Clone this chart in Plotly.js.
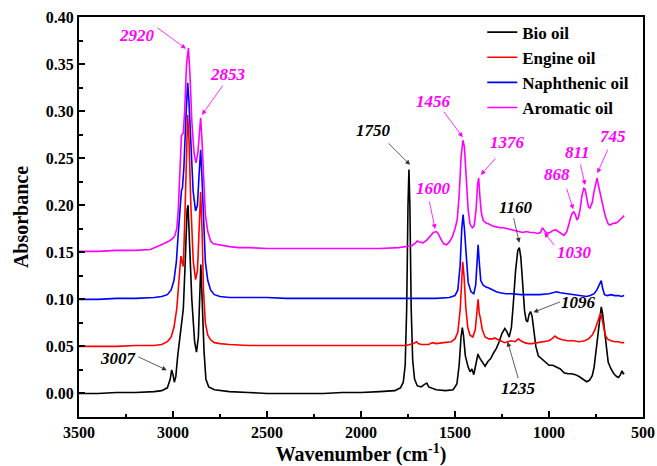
<!DOCTYPE html>
<html><head><meta charset="utf-8">
<script src="https://cdn.plot.ly/plotly-3.0.1.min.js"></script>
<style>html,body{margin:0;padding:0;background:#fff}#chart{width:657px;height:466px}</style>
</head><body><div id="chart"></div>
<script>
const seriesNames = ["Bio oil", "Engine oil", "Naphthenic oil", "Aromatic oil"];
const seriesColors = ["#000000", "#FF0000", "#0000FF", "#FF00FF"];

const bioWn = [3500,3400,3300,3200,3100,3060,3030,3015,3007,3000,2993,2985,2975,2962,2955,2945,2935,2925,2920,2913,2900,2885,2875,2865,2858,2852,2845,2835,2825,2810,2780,2750,2700,2600,2500,2400,2300,2200,2100,2000,1900,1820,1790,1775,1765,1757,1750,1745,1740,1733,1725,1715,1700,1680,1660,1650,1640,1600,1550,1510,1490,1478,1468,1461,1455,1445,1430,1420,1410,1400,1390,1378,1370,1355,1340,1325,1310,1295,1280,1265,1250,1235,1225,1212,1200,1190,1178,1166,1158,1150,1140,1130,1122,1114,1106,1098,1090,1080,1070,1057,1045,1030,1020,1000,980,960,940,920,900,880,860,840,820,800,785,770,760,750,740,730,722,715,705,695,685,670,655,640,630,620,612,605,600];
const bioAbs = [0.000,0.000,0.001,0.001,0.002,0.003,0.006,0.015,0.025,0.020,0.012,0.018,0.040,0.062,0.068,0.090,0.140,0.195,0.200,0.170,0.100,0.055,0.044,0.060,0.110,0.137,0.100,0.045,0.015,0.007,0.004,0.003,0.002,0.001,0.000,0.000,0.000,0.000,0.001,0.001,0.002,0.003,0.006,0.012,0.030,0.090,0.200,0.238,0.200,0.090,0.035,0.015,0.008,0.007,0.010,0.011,0.007,0.004,0.003,0.004,0.010,0.030,0.060,0.070,0.062,0.040,0.028,0.023,0.026,0.020,0.030,0.042,0.038,0.033,0.029,0.034,0.037,0.043,0.048,0.055,0.064,0.069,0.066,0.060,0.070,0.095,0.130,0.152,0.155,0.145,0.115,0.088,0.078,0.076,0.084,0.087,0.082,0.062,0.050,0.040,0.038,0.036,0.034,0.030,0.030,0.028,0.026,0.022,0.021,0.021,0.020,0.018,0.015,0.0125,0.014,0.019,0.028,0.045,0.065,0.085,0.092,0.085,0.065,0.045,0.033,0.026,0.021,0.018,0.017,0.020,0.024,0.021,0.022];

const engWn = [3500,3400,3300,3200,3100,3060,3030,3010,2995,2980,2968,2958,2952,2945,2938,2930,2922,2915,2905,2892,2880,2870,2862,2853,2845,2838,2828,2815,2800,2780,2750,2700,2600,2500,2400,2300,2200,2100,2000,1900,1800,1760,1740,1720,1705,1695,1680,1640,1620,1600,1560,1520,1500,1485,1472,1464,1459,1452,1442,1432,1420,1405,1392,1382,1377,1371,1365,1355,1340,1320,1300,1290,1270,1250,1235,1220,1200,1180,1162,1150,1130,1110,1090,1060,1030,1000,985,968,955,930,900,870,840,810,790,770,755,740,730,724,718,710,700,690,670,650,630,615,600];
const engAbs = [0.050,0.050,0.050,0.051,0.051,0.052,0.055,0.060,0.070,0.090,0.120,0.146,0.140,0.135,0.180,0.250,0.296,0.270,0.200,0.140,0.121,0.130,0.170,0.214,0.170,0.110,0.075,0.062,0.057,0.054,0.053,0.052,0.051,0.051,0.051,0.051,0.051,0.051,0.051,0.051,0.051,0.051,0.052,0.053,0.055,0.053,0.052,0.052,0.054,0.053,0.054,0.055,0.058,0.065,0.090,0.130,0.140,0.125,0.090,0.070,0.062,0.060,0.068,0.090,0.100,0.085,0.080,0.068,0.060,0.058,0.058,0.059,0.057,0.055,0.054,0.055,0.056,0.055,0.058,0.056,0.054,0.053,0.053,0.054,0.055,0.056,0.058,0.061,0.059,0.057,0.056,0.056,0.055,0.056,0.058,0.062,0.068,0.078,0.083,0.085,0.080,0.070,0.062,0.058,0.056,0.055,0.055,0.054,0.054];

const napWn = [3500,3400,3300,3200,3100,3060,3030,3010,2995,2982,2972,2962,2955,2950,2942,2932,2922,2915,2905,2893,2880,2870,2862,2853,2846,2838,2828,2815,2800,2780,2750,2700,2600,2500,2400,2300,2200,2100,2000,1900,1800,1700,1600,1530,1500,1485,1473,1464,1457,1450,1440,1430,1415,1400,1390,1382,1377,1371,1363,1350,1335,1320,1300,1280,1260,1230,1200,1150,1100,1050,1000,975,960,940,900,860,820,800,780,760,745,730,722,715,705,690,670,650,630,615,600];
const napAbs = [0.100,0.100,0.101,0.101,0.102,0.103,0.105,0.110,0.120,0.140,0.170,0.205,0.216,0.218,0.240,0.290,0.330,0.310,0.260,0.215,0.194,0.200,0.230,0.259,0.230,0.180,0.140,0.120,0.110,0.105,0.103,0.102,0.102,0.102,0.101,0.101,0.101,0.101,0.101,0.101,0.101,0.101,0.101,0.102,0.104,0.110,0.135,0.175,0.190,0.175,0.140,0.118,0.108,0.106,0.115,0.145,0.158,0.140,0.120,0.115,0.113,0.112,0.110,0.108,0.107,0.106,0.106,0.105,0.105,0.105,0.106,0.107,0.108,0.107,0.106,0.105,0.104,0.103,0.104,0.106,0.110,0.117,0.120,0.112,0.105,0.104,0.105,0.104,0.104,0.103,0.104];

const aroWn = [3500,3400,3300,3200,3120,3080,3050,3020,3000,2990,2980,2972,2963,2955,2945,2938,2928,2918,2910,2900,2888,2878,2868,2860,2853,2846,2838,2828,2815,2800,2785,2760,2730,2700,2650,2600,2500,2400,2300,2200,2100,2000,1900,1800,1760,1730,1710,1700,1690,1670,1650,1630,1615,1600,1590,1575,1560,1545,1530,1515,1500,1488,1478,1468,1458,1450,1440,1430,1420,1408,1398,1388,1380,1374,1368,1360,1350,1335,1320,1300,1280,1260,1240,1220,1200,1180,1160,1140,1120,1100,1080,1060,1045,1035,1028,1020,1010,995,980,965,950,935,920,905,895,885,875,868,860,852,845,835,825,815,808,798,790,782,770,760,750,744,738,728,720,712,705,695,685,676,665,655,645,635,625,615,605,600];
const aroAbs = [0.151,0.151,0.152,0.152,0.153,0.156,0.159,0.162,0.165,0.168,0.175,0.195,0.240,0.274,0.277,0.300,0.350,0.367,0.340,0.290,0.255,0.245,0.255,0.280,0.293,0.270,0.230,0.190,0.172,0.162,0.159,0.158,0.157,0.156,0.155,0.155,0.154,0.154,0.154,0.154,0.154,0.154,0.154,0.155,0.156,0.157,0.160,0.162,0.161,0.160,0.163,0.168,0.171,0.172,0.170,0.164,0.159,0.158,0.161,0.166,0.175,0.185,0.210,0.250,0.269,0.262,0.230,0.195,0.180,0.176,0.178,0.195,0.222,0.229,0.210,0.192,0.184,0.181,0.180,0.178,0.177,0.176,0.176,0.175,0.174,0.173,0.172,0.171,0.172,0.171,0.171,0.170,0.171,0.176,0.174,0.172,0.170,0.171,0.173,0.174,0.172,0.170,0.168,0.172,0.181,0.187,0.192,0.193,0.190,0.185,0.186,0.195,0.210,0.218,0.217,0.205,0.198,0.197,0.203,0.215,0.226,0.229,0.222,0.212,0.208,0.200,0.192,0.185,0.180,0.179,0.180,0.181,0.181,0.182,0.184,0.186,0.188,0.189];

// peak labels
const labelText  = ["2920","2853","1750","1456","1376","1600","1160","868","811","745","1030","1096","1235","3007"];
const labelColor = ["#FF00FF","#FF00FF","#000000","#FF00FF","#FF00FF","#FF00FF","#000000","#FF00FF","#FF00FF","#FF00FF","#FF00FF","#000000","#000000","#000000"];
const labelPos   = [[3191,0.380],[2707,0.3386],[1936,0.279],[1615,0.310],[1222,0.2666],[1612,0.218],[1176,0.1979],[956,0.2322],[849,0.256],[661,0.273],[867,0.1496],[844,0.0964],[1160,0.0053],[3291,0.0372]];
const arrowTip   = [[2931,0.3663],[2846,0.296],[1739,0.2429],[1459,0.2723],[1363,0.2322],[1606,0.1748],[1158,0.1602],[871,0.1957],[808,0.2216],[743,0.234],[1025,0.1709],[1083,0.0862],[1220,0.0549],[3033,0.0248]];
const arrowOff   = [[-30,-22],[22,-31],[-23,-23],[-20,-27],[16,-18],[-6,-29],[-6,-26],[-7,-22],[-5,-22],[11,-25],[11,14],[28,-11],[11,38],[-30,-14]];

const xs = [bioWn, engWn, napWn, aroWn];
const ys = [bioAbs, engAbs, napAbs, aroAbs];
const traces = xs.map((x, i) => ({
  x: x, y: ys[i], type: 'scatter', mode: 'lines', name: seriesNames[i],
  line: {color: seriesColors[i], width: 1.6}
}));

const serif = 'Liberation Serif, Times New Roman, serif';
const annotations = [];
labelText.forEach((t, i) => {
  annotations.push({x: arrowTip[i][0], y: arrowTip[i][1], xref: 'x', yref: 'y', text: '',
    showarrow: true, ax: arrowOff[i][0], ay: arrowOff[i][1], arrowhead: 2, arrowsize: 1.2,
    arrowwidth: 0.8, arrowcolor: labelColor[i] === '#000000' ? '#333333' : labelColor[i], standoff: 0});
  annotations.push({x: labelPos[i][0], y: labelPos[i][1], xref: 'x', yref: 'y', text: t,
    showarrow: false, font: {family: serif, size: 17, color: labelColor[i], weight: 'bold', style: 'italic'}});
});

const layout = {
  width: 657, height: 466,
  margin: {l: 79, r: 14, t: 17, b: 49},
  paper_bgcolor: '#fff', plot_bgcolor: '#fff',
  font: {family: serif, color: '#000'},
  showlegend: true,
  legend: {x: 0.715, y: 1.006, xanchor: 'left', yanchor: 'top', bgcolor: 'rgba(0,0,0,0)',
    font: {family: serif, size: 17, weight: 'bold', color: '#000'}, tracegroupgap: 0},
  xaxis: {range: [3500, 500], dtick: 500, tick0: 500, showgrid: false, zeroline: false,
    showline: true, linewidth: 2, linecolor: '#000', mirror: true,
    ticks: 'inside', ticklen: 6, tickwidth: 2, tickcolor: '#000',
    minor: {dtick: 250, ticks: 'inside', ticklen: 3, tickwidth: 2, tickcolor: '#000'},
    tickfont: {family: serif, size: 16, weight: 'bold'},
    title: {text: 'Wavenumber (cm<sup>-1</sup>)', font: {family: serif, size: 20, weight: 'bold'}, standoff: 6}},
  yaxis: {range: [-0.025, 0.40], dtick: 0.05, tick0: 0, tickformat: '.2f', showgrid: false, zeroline: false,
    showline: true, linewidth: 2, linecolor: '#000', mirror: true,
    ticks: 'inside', ticklen: 6, tickwidth: 2, tickcolor: '#000',
    minor: {dtick: 0.025, ticks: 'inside', ticklen: 4, tickwidth: 2, tickcolor: '#000'},
    tickfont: {family: serif, size: 16, weight: 'bold'},
    title: {text: 'Absorbance', font: {family: serif, size: 20, weight: 'bold'}, standoff: 12}},
  annotations: annotations
};
Plotly.newPlot('chart', traces, layout, {displayModeBar: false, staticPlot: true});
</script></body></html>
